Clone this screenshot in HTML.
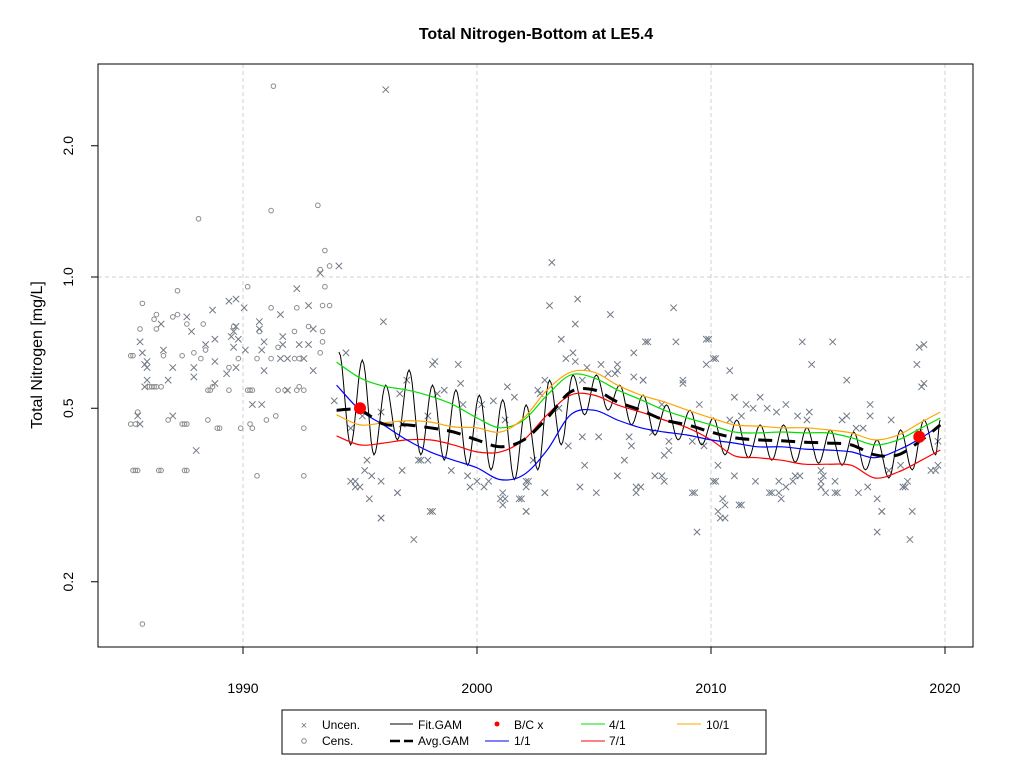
<!DOCTYPE html>
<html><head><meta charset="utf-8"><style>
body{margin:0;background:#fff;font-family:"Liberation Sans",Arial,sans-serif}
svg text{font-family:"Liberation Sans",Arial,sans-serif}
</style></head><body>
<svg id="chart" width="1024" height="768" xmlns="http://www.w3.org/2000/svg">
<rect width="1024" height="768" fill="#fff"/>
<text x="536" y="39" text-anchor="middle" font-size="16" font-weight="bold">Total Nitrogen-Bottom at LE5.4</text>
<g id="grid"></g>
<g id="points"></g>
<g id="lines"></g>
<rect x="98" y="64" width="875" height="583" fill="none" stroke="#000"/>
<g id="axes"></g>
<text transform="translate(42,355) rotate(-90)" text-anchor="middle" font-size="16">Total Nitrogen [mg/L]</text>
<g>
<rect x="282" y="710" width="484" height="44" fill="#fff" stroke="#000"/>
<text x="304" y="729" text-anchor="middle" font-size="11" fill="#777">×</text>
<text x="322" y="729" font-size="12">Uncen.</text>
<circle cx="304" cy="741" r="2.3" fill="none" stroke="#888"/>
<text x="322" y="745" font-size="12">Cens.</text>
<line x1="390" y1="724" x2="413" y2="724" stroke="#000"/>
<text x="418" y="729" font-size="12">Fit.GAM</text>
<line x1="390" y1="741" x2="413" y2="741" stroke="#000" stroke-width="2.5" stroke-dasharray="10,4"/>
<text x="418" y="745" font-size="12">Avg.GAM</text>
<circle cx="497" cy="724" r="2.5" fill="red"/>
<text x="514" y="729" font-size="12">B/C x</text>
<line x1="485" y1="741" x2="509" y2="741" stroke="#0000ff"/>
<text x="514" y="745" font-size="12">1/1</text>
<line x1="581" y1="724" x2="605" y2="724" stroke="#00e000"/>
<text x="609" y="729" font-size="12">4/1</text>
<line x1="581" y1="741" x2="605" y2="741" stroke="#ff0000"/>
<text x="609" y="745" font-size="12">7/1</text>
<line x1="677" y1="724" x2="701" y2="724" stroke="#ffa500"/>
<text x="706" y="729" font-size="12">10/1</text>
</g>
</svg>
<script>
const xTicks=[1990,2000,2010,2020];
const yTicks=[0.2,0.5,1.0,2.0];
const yTickLabels=["0.2","0.5","1.0","2.0"];
const curveYears=[1994,1995,1996,1997,1998,1999,2000,2001,2002,2003,2004,2005,2006,2007,2008,2009,2010,2011,2012,2013,2014,2015,2016,2017,2018,2019,2019.8];
const avgGam=[0.495,0.495,0.460,0.458,0.451,0.441,0.423,0.408,0.423,0.475,0.545,0.551,0.517,0.495,0.470,0.458,0.441,0.428,0.423,0.421,0.418,0.416,0.412,0.391,0.391,0.423,0.458];
const gam41=[0.638,0.587,0.562,0.551,0.533,0.509,0.475,0.451,0.470,0.536,0.596,0.587,0.551,0.523,0.495,0.475,0.458,0.441,0.439,0.441,0.439,0.439,0.428,0.412,0.423,0.451,0.475];
const gam101=[0.483,0.458,0.463,0.468,0.465,0.453,0.451,0.441,0.475,0.551,0.605,0.605,0.565,0.536,0.517,0.495,0.475,0.458,0.455,0.451,0.451,0.446,0.439,0.423,0.434,0.465,0.490];
const gam71=[0.432,0.412,0.416,0.423,0.423,0.412,0.397,0.397,0.423,0.483,0.536,0.536,0.509,0.490,0.470,0.451,0.423,0.389,0.385,0.380,0.372,0.372,0.370,0.346,0.357,0.380,0.401];
const gam11=[0.565,0.495,0.458,0.423,0.397,0.380,0.365,0.343,0.352,0.401,0.483,0.495,0.470,0.451,0.441,0.434,0.423,0.416,0.408,0.408,0.403,0.401,0.397,0.385,0.401,0.428,0.458];
const fitYears=[1994,1995,1996,1997,1998,1999,2000,2001,2002,2003,2004,2005,2006,2007,2008,2009,2010,2011,2012,2013,2014,2015,2016,2017,2018,2019];
const fitPeak=[0.673,0.645,0.565,0.612,0.565,0.551,0.536,0.523,0.509,0.580,0.596,0.596,0.565,0.536,0.509,0.495,0.475,0.470,0.458,0.458,0.451,0.446,0.441,0.423,0.446,0.470];
const fitTrough=[0.412,0.391,0.423,0.391,0.380,0.370,0.361,0.343,0.361,0.412,0.483,0.495,0.458,0.434,0.423,0.412,0.391,0.385,0.380,0.376,0.374,0.370,0.361,0.346,0.361,0.391];
const bcYears=[1995.0,2018.9];
const bcValues=[0.50,0.43];
const censYears=[1985.7,1991.3,1991.2,1988.1,1993.2,1993.5,1993.7,1993.3,1987.2,1985.7,1986.3,1986.2,1987.0,1987.2,1985.6,1986.3,1987.6,1988.3,1985.2,1985.3,1986.6,1987.4,1987.9,1988.2,1988.4,1989.4,1989.8,1990.2,1989.6,1986.0,1986.1,1986.2,1986.3,1986.5,1988.5,1988.6,1988.7,1989.4,1990.2,1990.3,1990.4,1991.5,1991.8,1992.3,1992.6,1992.4,1985.5,1985.2,1985.4,1986.8,1987.4,1987.5,1987.6,1988.5,1988.9,1989.0,1989.9,1990.3,1990.4,1991.0,1991.4,1992.6,1985.3,1985.4,1985.5,1986.4,1986.5,1987.5,1987.6,1990.6,1992.6,1990.6,1991.2,1991.5,1992.2,1992.3,1991.2,1992.8,1993.4,1993.4,1993.3,1993.5,1993.4,1993.7,1990.7,1992.2,1992.4];
const censValues=[0.16,2.74,1.42,1.36,1.46,1.15,1.06,1.04,0.93,0.87,0.82,0.80,0.81,0.82,0.76,0.76,0.78,0.78,0.66,0.66,0.66,0.66,0.67,0.65,0.68,0.62,0.65,0.95,0.77,0.56,0.56,0.56,0.56,0.56,0.55,0.55,0.56,0.55,0.55,0.55,0.55,0.55,0.55,0.55,0.55,0.56,0.49,0.46,0.46,0.47,0.46,0.46,0.46,0.47,0.45,0.45,0.45,0.46,0.45,0.47,0.48,0.45,0.36,0.36,0.36,0.36,0.36,0.36,0.36,0.35,0.35,0.65,0.65,0.69,0.75,0.85,0.85,0.77,0.75,0.71,0.67,0.95,0.86,0.86,0.75,0.65,0.65];
const uncYears=[1989.4,1989.7,1990.05,1988.7,1987.6,1986.5,1987.8,1985.6,1985.7,1986.6,1985.9,1985.8,1985.9,1987.0,1987.9,1987.9,1985.9,1985.8,1986.8,1988.8,1988.4,1988.8,1989.5,1989.6,1989.7,1989.8,1989.6,1990.1,1988.8,1989.7,1989.3,1990.7,1990.7,1990.9,1990.8,1991.6,1991.7,1991.7,1991.6,1991.9,1992.4,1992.8,1992.6,1992.3,1992.8,1993.3,1993.0,1990.9,1993.0,1991.9,1990.4,1990.8,1987.0,1988.0,1985.6,1985.5,1994.1,
1996.1,2003.2,2003.1,2004.3,1996.0,2005.7,2008.4,2009.8,2010.1,2013.9,2018.9,2004.2,2003.6,1998.1,2006.0,2006.7,1997.3,1995.9,1998.1,2001.0,2002.1,2002.9,2010.6,2009.4,2017.1,2018.5,2017.3,2018.6,2010.3,2011.3,2012.5,2013.2,1994.6,1994.8,1995.4,1996.6,1999.7,2000.5,2001.2,2001.8,2004.4,2004.6,2005.1,2006.0,2006.8,2008.0,2009.2,2010.2,2011.0,2012.9,2013.8,2014.7,2015.3,2016.7,2017.6,2018.3,2019.4,2019.7,
1994.4,1998.2,1999.2,1999.3,1997.0,1998.3,1998.6,1996.7,1993.9,1995.9,1995.1,1996.8,1997.9,1999.4,2000.2,2000.7,2001.6,2001.3,2002.6,2002.7,2002.9,2004.1,2003.8,2004.2,2005.3,2004.7,2005.6,2005.9,2006.0,2006.7,2007.1,2007.2,2003.5,1994.6,1997.6,1997.5,1997.9,1995.3,1996.8,1995.2,1995.5,1998.9,1999.6,2000.0,1994.8,1995.0,1995.9,1996.6,2000.3,2001.1,2001.1,2001.9,2002.1,2002.1,2002.1,2002.2,2002.9,2002.4,2003.9,2004.5,2005.2,2006.5,2006.6,2006.3,2006.8,1995.9,1998.0,2001.2,2003.5,2004.5,
2007.3,2008.5,2009.9,2010.2,2009.8,2010.8,2007.1,2008.8,2008.8,2015.2,2019.1,2014.3,2015.8,2018.8,2019.1,2019.0,2011.0,2012.1,2013.2,2009.5,2011.5,2011.8,2012.4,2012.8,2014.2,2016.8,2016.8,2013.7,2014.1,2015.6,2015.8,2017.7,2016.2,2016.5,2010.8,2011.3,2007.9,2007.5,2008.2,2008.2,2008.0,2009.2,2009.7,2018.9,2019.7,2019.6,2007.6,2007.9,2010.3,2011.9,2012.9,2013.6,2013.5,2014.7,2014.8,2014.7,2015.3,2016.3,2012.6,2013.0,2014.9,2015.4,2018.2,2018.4,2010.1,2009.3,2010.5,2010.6,2011.2,2010.4,2017.1,2017.3,2018.1,2007.0];
const uncValues=[0.88,0.89,0.85,0.84,0.81,0.78,0.75,0.71,0.67,0.68,0.64,0.63,0.62,0.62,0.62,0.59,0.58,0.56,0.58,0.57,0.70,0.72,0.73,0.75,0.77,0.72,0.69,0.68,0.64,0.62,0.60,0.79,0.76,0.71,0.68,0.82,0.73,0.70,0.65,0.65,0.70,0.70,0.65,0.94,0.86,1.02,0.76,0.61,0.61,0.55,0.51,0.51,0.48,0.40,0.46,0.48,1.06,
2.69,1.08,0.86,0.89,0.79,0.82,0.85,0.72,0.65,0.71,0.69,0.78,0.72,0.63,0.63,0.67,0.25,0.28,0.29,0.31,0.29,0.32,0.28,0.26,0.26,0.25,0.29,0.29,0.29,0.30,0.32,0.33,0.34,0.33,0.31,0.32,0.33,0.34,0.31,0.31,0.33,0.37,0.32,0.35,0.33,0.34,0.32,0.34,0.35,0.32,0.35,0.34,0.32,0.33,0.36,0.33,0.36,0.37,
0.67,0.64,0.63,0.57,0.58,0.54,0.55,0.54,0.52,0.49,0.48,0.46,0.48,0.51,0.51,0.52,0.53,0.56,0.55,0.54,0.58,0.67,0.65,0.64,0.63,0.62,0.60,0.60,0.61,0.59,0.58,0.71,0.50,0.45,0.38,0.38,0.38,0.38,0.36,0.36,0.35,0.36,0.35,0.34,0.34,0.33,0.34,0.32,0.33,0.32,0.30,0.31,0.29,0.33,0.34,0.34,0.32,0.38,0.41,0.43,0.43,0.43,0.41,0.38,0.32,0.28,0.29,0.47,0.50,0.58,
0.71,0.71,0.72,0.65,0.63,0.61,0.58,0.58,0.57,0.71,0.70,0.63,0.58,0.63,0.57,0.56,0.53,0.53,0.51,0.51,0.51,0.50,0.50,0.49,0.49,0.51,0.48,0.48,0.47,0.47,0.48,0.47,0.45,0.45,0.47,0.48,0.51,0.44,0.42,0.40,0.39,0.42,0.41,0.44,0.42,0.36,0.35,0.35,0.37,0.34,0.34,0.35,0.34,0.36,0.35,0.33,0.34,0.32,0.32,0.31,0.32,0.32,0.33,0.34,0.34,0.32,0.31,0.30,0.30,0.28,0.31,0.29,0.37,0.33];

const NS='http://www.w3.org/2000/svg';
function X(yr){return 243+(yr-1990)*23.4;}
function Y(v){return 277-Math.log10(v)*436;}
function mk(tag,attrs,parent){const e=document.createElementNS(NS,tag);for(const k in attrs)e.setAttribute(k,attrs[k]);parent.appendChild(e);return e;}
const grid=document.getElementById('grid'),axes=document.getElementById('axes'),pts=document.getElementById('points'),lines=document.getElementById('lines');
xTicks.forEach(t=>{
  const g=mk('line',{x1:X(t),x2:X(t),y1:64,y2:647,stroke:'#d0d0d0','stroke-dasharray':'4,3'},grid);
  
  
  const tk=mk('line',{x1:X(t),x2:X(t),y1:647,y2:654,stroke:'#000'},axes);
  
  
  const tx=mk('text',{x:X(t),y:693,'text-anchor':'middle','font-size':'14'},axes);
  tx.textContent=t;
  
  
});
const hg=mk('line',{x1:98,x2:973,y1:Y(1.0),y2:Y(1.0),stroke:'#d0d0d0','stroke-dasharray':'4,3'},grid);


yTicks.forEach((t,i)=>{
  const tk=mk('line',{x1:91,x2:98,y1:Y(t),y2:Y(t),stroke:'#000'},axes);
  
  
  const tx=mk('text',{transform:`translate(73,${Y(t)}) rotate(-90)`,'text-anchor':'middle','font-size':'14'},axes);
  tx.textContent=yTickLabels[i];
  
  
});
censYears.forEach((yr,i)=>{
  const c=mk('circle',{cx:X(yr),cy:Y(censValues[i]),r:2.3,fill:'none',stroke:'#8c8c8c','stroke-width':1},pts);
  
  
});
uncYears.forEach((yr,i)=>{
  const x=X(yr),y=Y(uncValues[i]),d=3.2;
  const p=mk('path',{d:`M${x-d},${y-d}L${x+d},${y+d}M${x-d},${y+d}L${x+d},${y-d}`,stroke:'#707a86','stroke-width':1},pts);
  
  
});
function smooth(vals,col,w,name,dash){
  const P=curveYears.map((yr,i)=>[X(yr),Y(vals[i])]);
  let d='M'+P[0][0].toFixed(1)+','+P[0][1].toFixed(1);
  for(let i=0;i<P.length-1;i++){
    const p0=P[Math.max(0,i-1)],p1=P[i],p2=P[i+1],p3=P[Math.min(P.length-1,i+2)];
    const c1=[p1[0]+(p2[0]-p0[0])/6,p1[1]+(p2[1]-p0[1])/6];
    const c2=[p2[0]-(p3[0]-p1[0])/6,p2[1]-(p3[1]-p1[1])/6];
    d+=`C${c1[0].toFixed(1)},${c1[1].toFixed(1)} ${c2[0].toFixed(1)},${c2[1].toFixed(1)} ${p2[0].toFixed(1)},${p2[1].toFixed(1)}`;
  }
  const a={d:d,fill:'none',stroke:col,'stroke-width':w,'stroke-linejoin':'round'};
  if(dash)a['stroke-dasharray']=dash;
  const p=mk('path',a,lines);
  
  
}
(function(){
  let d='';
  const ext=[];
  fitYears.forEach((yr,i)=>{ext.push([yr+0.1,fitPeak[i]]);if(yr+0.6<=2019.8)ext.push([yr+0.6,fitTrough[i]]);});
  ext.push([2019.8,fitPeak[fitPeak.length-1]]);
  for(let k=0;k<ext.length-1;k++){
    const [t0,v0]=ext[k],[t1,v1]=ext[k+1];
    for(let s=0;s<=8;s++){
      const f=s/8,t=t0+(t1-t0)*f;
      const l=Math.log10(v0)+(Math.log10(v1)-Math.log10(v0))*(1-Math.cos(Math.PI*f))/2;
      d+=((k===0&&s===0)?'M':'L')+X(t).toFixed(1)+','+(277-l*436).toFixed(1);
    }
  }
  const p=mk('path',{d:d,fill:'none',stroke:'#000','stroke-width':1},lines);
  
  
})();
smooth(gam41,'#00e000',1.2,'gam-4-1-line');
smooth(gam101,'#ffa500',1.2,'gam-10-1-line');
smooth(gam71,'#ff0000',1.2,'gam-7-1-line');
smooth(gam11,'#0000ff',1.2,'gam-1-1-line');
smooth(avgGam,'#000',3,'avg-gam-line','14,9');
bcYears.forEach((yr,i)=>{
  const c=mk('circle',{cx:X(yr),cy:Y(bcValues[i]),r:6,fill:'#ff0000'},lines);
  
  
});
</script>
</body></html>
